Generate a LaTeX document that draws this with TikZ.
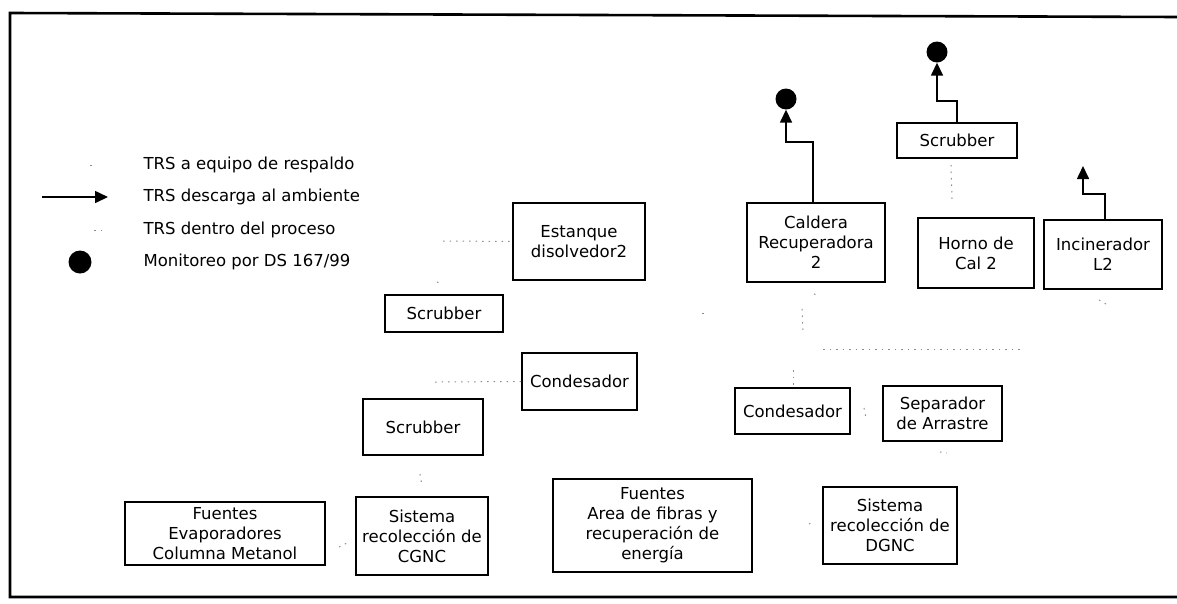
\documentclass[tikz,border=0pt]{standalone}
\usepackage{fontspec}
\setmainfont{DejaVu Sans}
\usetikzlibrary{arrows.meta}
\begin{document}
\begin{tikzpicture}[x=1pt,y=-1pt,
  txt/.style={font=\fontsize{16.5}{20}\selectfont},
  unit/.style n args={2}{draw, line width=1.8pt, minimum width=#1, minimum height=#2,
    inner sep=0pt, align=center, txt},
  flow/.style={line width=1.6pt, -{Triangle[width=12pt,length=13pt]}},
  proc/.style={draw=black!45, line width=1pt, dash pattern=on 1.5pt off 5pt},
  mon/.style={circle, fill=black, minimum size=21pt, inner sep=0pt},
  legtxt/.style={anchor=west, txt}]
\useasboundingbox (0,0) rectangle (1177,603);

% outer frame (right side runs off the sheet)
\draw[line width=2.6pt] (1180,17) -- (10,13) -- (10,597) -- (1180,597);

% legend
\coordinate (l1) at (90,165);
\coordinate (l1e) at (94,165);
\draw[proc] (l1) -- (l1e);
\node[legtxt] (t1) at (140,165) {TRS a equipo de respaldo};
\coordinate (l2s) at (42,197);
\coordinate (l2e) at (108,197);
\draw[flow] (l2s) -- (l2e);
\node[legtxt] (t2) at (140,197) {TRS descarga al ambiente};
\coordinate (l3) at (94,230);
\coordinate (l3e) at (101,230);
\draw[proc] (l3) -- (l3e);
\node[legtxt] (t3) at (140,230) {TRS dentro del proceso};
\node[mon, minimum size=23pt] (l4) at (80,262) {};
\node[legtxt] (t4) at (140,262) {Monitoreo por DS 167/99};

% process units
\node[unit={132pt}{77pt}] (est) at (579,241.5) {Estanque\\disolvedor2};
\node[unit={118pt}{37pt}] (scrA) at (444,313.5) {Scrubber};
\node[unit={115pt}{57pt}] (cond1) at (579.5,381.5) {Condesador};
\node[unit={120pt}{56pt}] (scrB) at (423,427) {Scrubber};
\node[unit={200pt}{63pt}] (fevap) at (225,533.5) {Fuentes\\Evaporadores\\Columna Metanol};
\node[unit={132pt}{78pt}] (scgnc) at (422,536) {Sistema\\recolección de\\CGNC};
\node[unit={199pt}{93pt}] (farea) at (652.5,525.5) {Fuentes\\Area de fibras y\\recuperación de\\energía};
\node[unit={134pt}{77pt}] (sdgnc) at (890,525.5) {Sistema\\recolección de\\DGNC};
\node[unit={115pt}{46pt}] (cond2) at (792.5,411) {Condesador};
\node[unit={119pt}{55pt}] (sep) at (942.5,413.5) {Separador\\de Arrastre};
\node[unit={138pt}{79pt}] (cald) at (816,242.5) {Caldera\\Recuperadora\\2};
\node[unit={120pt}{35pt}] (scrC) at (957,140.5) {Scrubber};
\node[unit={116pt}{70pt}] (horno) at (976,253) {Horno de\\Cal 2};
\node[unit={118pt}{69pt}] (incin) at (1103,254.5) {Incinerador\\L2};

% monitoring points
\node[mon] (mon1) at (786,99) {};
\node[mon] (mon2) at (937,52) {};
\coordinate (incout) at (1083,166);

% discharges to atmosphere
\draw[flow] ([xshift=-3pt]cald.north) -- ++(0,-60) -| (mon1);
\draw[flow] (scrC.north) -- ++(0,-21) -| (mon2);
\draw[flow] ([xshift=2pt]incin.north) -- ++(0,-25) -| (incout);

% in-process gas lines
\coordinate (p1) at (443,241);
\draw[proc] (p1) -- (est.west);
\coordinate (p2) at (437,282);
\coordinate (p2e) at (443,284);
\draw[proc] (p2) -- (p2e);
\coordinate (p3) at (435,382);
\draw[proc] (p3) -- (cond1.west);
\coordinate (p4) at (420,474);
\coordinate (p4e) at (422,486);
\draw[proc] (p4) -- (p4e);
\coordinate (p5) at (339,547);
\coordinate (p5e) at (347,543);
\draw[proc] (p5) -- (p5e);
\coordinate (p6) at (814,294);
\coordinate (p6e) at (820,296);
\draw[proc] (p6) -- (p6e);
\coordinate (p7) at (802,309);
\coordinate (p7e) at (803,334);
\draw[proc] (p7) -- (p7e);
\coordinate (p8) at (823,349);
\coordinate (p8e) at (1024,349);
\draw[proc] (p8) -- (p8e);
\coordinate (p9) at (793,370);
\draw[proc] (p9) -- (cond2.north -| p9);
\coordinate (p10) at (864,408);
\coordinate (p10e) at (866,418);
\draw[proc] (p10) -- (p10e);
\coordinate (p11) at (940,452);
\coordinate (p11e) at (947,453);
\draw[proc] (p11) -- (p11e);
\coordinate (p12) at (809,524);
\coordinate (p12e) at (814,521);
\draw[proc] (p12) -- (p12e);
\coordinate (p13) at (951,165);
\coordinate (p13e) at (952,199);
\draw[proc] (p13) -- (p13e);
\coordinate (p14) at (1099,300);
\coordinate (p14e) at (1106,304);
\draw[proc] (p14) -- (p14e);
\coordinate (p15) at (702,313);
\coordinate (p15e) at (705,313);
\draw[proc] (p15) -- (p15e);
\end{tikzpicture}
\end{document}
